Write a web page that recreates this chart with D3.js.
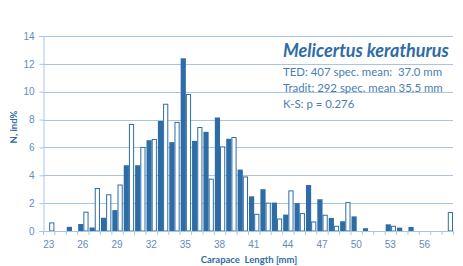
<!DOCTYPE html>
<html>
<head>
<meta charset="utf-8">
<script src="https://cdn.jsdelivr.net/npm/d3@7"></script>
<style>
  body { margin: 0; background: #fff; }
  svg { display: block; font-family: Lato, "Open Sans", sans-serif; }
</style>
</head>
<body>
<svg id="chart" width="463" height="266"></svg>
<script>
// carapace length classes (mm)
const lengths = d3.range(23, 59);
// TED sampling, % of individuals per class
const tedValues = [0, 0, 0.3, 0.5, 0.25, 0.95, 1.5, 4.72, 4.72, 6.52, 7.9, 6.38, 12.4, 6.47,
  7.12, 8.15, 6.62, 4.41, 2.49, 3.0, 2.04, 1.18, 2.0, 3.3, 2.28, 0.94, 0.7, 1.05, 0.2, 0,
  0.48, 0.24, 0.29, 0, 0, 0];
// traditional sampling, % of individuals per class
const traditValues = [0.58, 0, 0, 1.35, 3.05, 2.6, 3.3, 7.65, 6.0, 6.57, 9.1, 7.8, 9.8, 7.43,
  3.72, 6.04, 6.71, 3.88, 1.2, 2.0, 0.86, 2.88, 1.25, 0.65, 1.13, 0.34, 2.04, 0, 0, 0,
  0.34, 0, 0, 0, 0, 1.32];
const xTickLabels = [23, 26, 29, 32, 35, 38, 41, 44, 47, 50, 53, 56];
const yTicks = [0, 2, 4, 6, 8, 10, 12, 14];
const infoLines = ["TED: 407 spec. mean:  37.0 mm", "Tradit: 292 spec. mean 35.5 mm", "K-S: p = 0.276"];

const blue = "#2e6ca6";
const grid = "#a9c5e6";
const tickText = "#5f8cc0";

const svg = d3.select("#chart");
const plot = { left: 43, right: 453, top: 36, bottom: 231 };

const x = d3.scaleBand().domain(lengths).range([plot.left, plot.right]).padding(0);
const xSub = d3.scaleBand().domain(["ted", "trad"]).range([1, x.bandwidth()]).padding(0);
const y = d3.scaleLinear().domain([0, 14]).range([plot.bottom, plot.top]);

// horizontal grid
svg.append("g").selectAll("line")
  .data(yTicks.filter(d => d > 0))
  .enter().append("line")
  .attr("x1", plot.left).attr("x2", plot.right)
  .attr("y1", d => Math.round(y(d)) + 0.5).attr("y2", d => Math.round(y(d)) + 0.5)
  .style("stroke", grid).style("stroke-width", 1);

// y axis
const yAxis = svg.append("g")
  .attr("transform", `translate(${plot.left + 0.5},0)`)
  .call(d3.axisLeft(y).tickValues(yTicks).tickSize(4).tickPadding(5));
yAxis.select(".domain").style("stroke", grid);
yAxis.selectAll(".tick line").style("stroke", grid);
yAxis.selectAll("text").style("fill", tickText).style("font-size", "10px");

// bars
const groups = svg.append("g").selectAll("g")
  .data(lengths)
  .enter().append("g")
  .attr("transform", d => `translate(${x(d)},0)`);

groups.append("rect")
  .attr("x", xSub("ted"))
  .attr("width", xSub.bandwidth())
  .attr("y", (d, i) => y(tedValues[i]))
  .attr("height", (d, i) => y(0) - y(tedValues[i]))
  .style("fill", blue);

groups.filter((d, i) => traditValues[i] > 0).append("rect")
  .attr("x", xSub("trad") + 0.5)
  .attr("width", xSub.bandwidth() - 1)
  .attr("y", d => y(traditValues[lengths.indexOf(d)]))
  .attr("height", d => y(0) - y(traditValues[lengths.indexOf(d)]))
  .style("fill", "#fff").style("stroke", blue).style("stroke-width", 1);

// x axis with a minor tick at every class boundary
svg.append("line")
  .attr("x1", plot.left).attr("x2", plot.right)
  .attr("y1", plot.bottom + 0.5).attr("y2", plot.bottom + 0.5)
  .style("stroke", grid);
svg.append("g").selectAll("line")
  .data(lengths.concat([59]))
  .enter().append("line")
  .attr("x1", d => (d === 59 ? plot.right : x(d)) + 0.5)
  .attr("x2", d => (d === 59 ? plot.right : x(d)) + 0.5)
  .attr("y1", plot.bottom).attr("y2", plot.bottom + 4)
  .style("stroke", grid);

const xAxis = svg.append("g")
  .attr("transform", `translate(0,${plot.bottom})`)
  .call(d3.axisBottom(x).tickValues(xTickLabels).tickSize(0).tickPadding(10));
xAxis.select(".domain").remove();
xAxis.selectAll("text").style("fill", tickText).style("font-size", "10px");

// axis titles
svg.append("text")
  .attr("x", 249).attr("y", 263)
  .attr("text-anchor", "middle")
  .style("font-size", "9.5px").style("font-weight", "bold").style("fill", blue)
  .style("white-space", "pre")
  .text("Carapace  Length [mm]");

svg.append("text")
  .attr("transform", "translate(17,127) rotate(-90)")
  .attr("text-anchor", "middle")
  .style("font-size", "9.5px").style("font-weight", "bold").style("fill", blue)
  .text("N, ind%");

// species and statistics
svg.append("text")
  .attr("x", 283).attr("y", 57)
  .style("font-size", "18px").style("font-weight", "bold").style("font-style", "italic")
  .style("fill", blue)
  .text("Melicertus kerathurus");

svg.append("g").selectAll("text")
  .data(infoLines)
  .enter().append("text")
  .attr("x", 283)
  .attr("y", (d, i) => 76 + i * 16)
  .style("font-size", "11.4px").style("fill", "#4a7db5")
  .style("white-space", "pre")
  .text(d => d);
</script>
</body>
</html>
